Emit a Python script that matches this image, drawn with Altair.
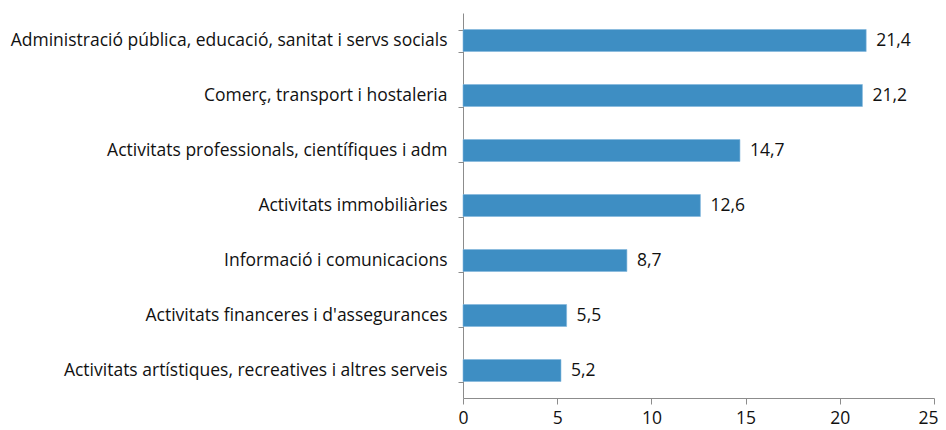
import altair as alt
import pandas as pd

categories = [
    "Administració pública, educació, sanitat i servs socials",
    "Comerç, transport i hostaleria",
    "Activitats professionals, científiques i adm",
    "Activitats immobiliàries",
    "Informació i comunicacions",
    "Activitats financeres i d'assegurances",
    "Activitats artístiques, recreatives i altres serveis",
]
values = [21.4, 21.2, 14.7, 12.6, 8.7, 5.5, 5.2]
x_ticks = [0, 5, 10, 15, 20, 25]

df = pd.DataFrame({"cat": categories, "v": values})

FONT = "Open Sans"
FS = 17.5
AXIS_COLOR = "#8c8c8c"
TEXT_COLOR = "#111111"

y_enc = alt.Y(
    "cat:N",
    sort=categories,
    title=None,
    scale=alt.Scale(paddingInner=0.6, paddingOuter=0.3),
    axis=alt.Axis(
        tickBand="extent",
        tickSize=5,
        tickColor=AXIS_COLOR,
        domainColor=AXIS_COLOR,
        labelFont=FONT,
        labelFontSize=FS,
        labelColor=TEXT_COLOR,
        labelPadding=11,
        labelLimit=600,
    ),
)
x_enc = alt.X(
    "v:Q",
    title=None,
    scale=alt.Scale(domain=[0, 25], nice=False),
    axis=alt.Axis(
        values=x_ticks,
        grid=False,
        tickSize=6,
        tickColor=AXIS_COLOR,
        domainColor=AXIS_COLOR,
        labelFont=FONT,
        labelFontSize=FS,
        labelColor=TEXT_COLOR,
        labelPadding=5,
        labelFlush=False,
        labelAlign=alt.condition("datum.value == 25", alt.value("right"), alt.value("center")),
        labelOffset=alt.condition("datum.value == 25", alt.value(4), alt.value(0)),
    ),
)

base = alt.Chart(df)
bars = base.mark_bar(color="#3E8EC3", stroke="#7FB6DC", strokeWidth=0.6).encode(x=x_enc, y=y_enc)
labels = (
    base.transform_calculate(lab="replace(format(datum.v, '.1f'), '.', ',')")
    .mark_text(align="left", baseline="middle", dx=10, font=FONT, fontSize=FS, color=TEXT_COLOR)
    .encode(x="v:Q", y=alt.Y("cat:N", sort=categories), text="lab:N")
)

chart = (
    alt.layer(bars, labels)
    .properties(
        width=471,
        height=385,
        autosize=alt.AutoSizeParams(type="none"),
        padding={"left": 455, "top": 5, "right": 4, "bottom": 30},
        background="white",
    )
    .configure_view(stroke=None)
)

chart.save("out.html", embed_options={"renderer": "svg", "actions": False})
